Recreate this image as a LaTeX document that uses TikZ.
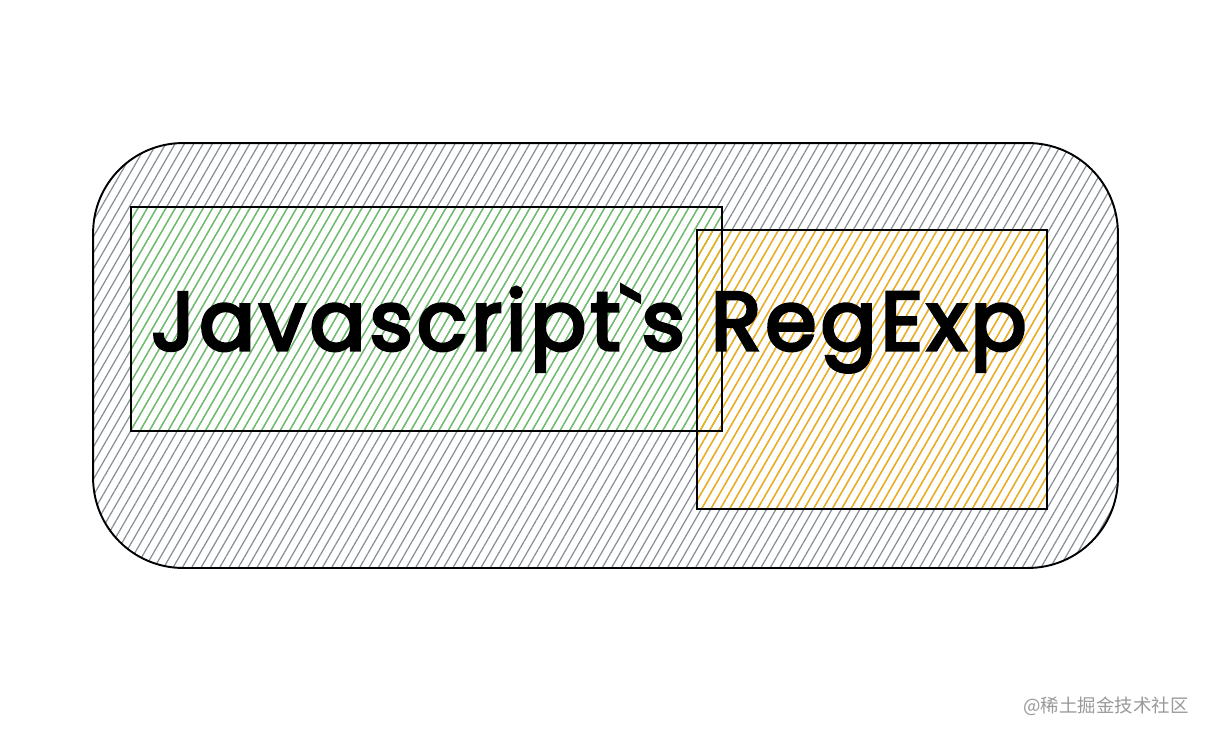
\documentclass[tikz,border=0pt]{standalone}
\usepackage{fontspec}
\setmainfont{Poppins}
\newfontfamily\hand{Poppins}[LetterSpace=5,FakeBold=4]
\newfontfamily\cjk{Noto Sans CJK SC}
\usetikzlibrary{patterns.meta}
\definecolor{hatchgray}{HTML}{868E96}
\definecolor{hatchgreen}{HTML}{69C463}
\definecolor{hatchyellow}{HTML}{FAB005}
\begin{document}
\begin{tikzpicture}[x=0.02cm,y=-0.02cm,
  box/.style={inner sep=0pt},
  rim/.style={draw=black, line width=1.1pt},
  hatch/.style={pattern={Lines[angle=60,distance=4.6pt,line width=0.7pt]}, pattern color=#1}]
\useasboundingbox (0,0) rectangle (1208,738);

\node[box, rim, rounded corners=1.8cm, minimum width=20.5cm, minimum height=8.5cm, hatch=hatchgray] (o) at (605.5,355.5) {};

\node[box, minimum width=11.82cm, minimum height=4.48cm, hatch=hatchgreen] (g) at (426.5,319) {};
\node[box, minimum width=7cm, minimum height=5.58cm, hatch=hatchyellow] (y) at (872,369.5) {};

% borders on top of both fills
\draw[rim] (g.north west) rectangle (g.south east);
\draw[rim] (y.north west) rectangle (y.south east);

\node[anchor=base, font=\hand\fontsize{47}{50}\selectfont] (t) at (589,350)
{Javascript\textasciigrave s RegExp};

\node[text=black!40, font=\cjk\fontsize{10.5}{12}\selectfont] (w) at (1106,706) {@稀土掘金技术社区};
\end{tikzpicture}
\end{document}
